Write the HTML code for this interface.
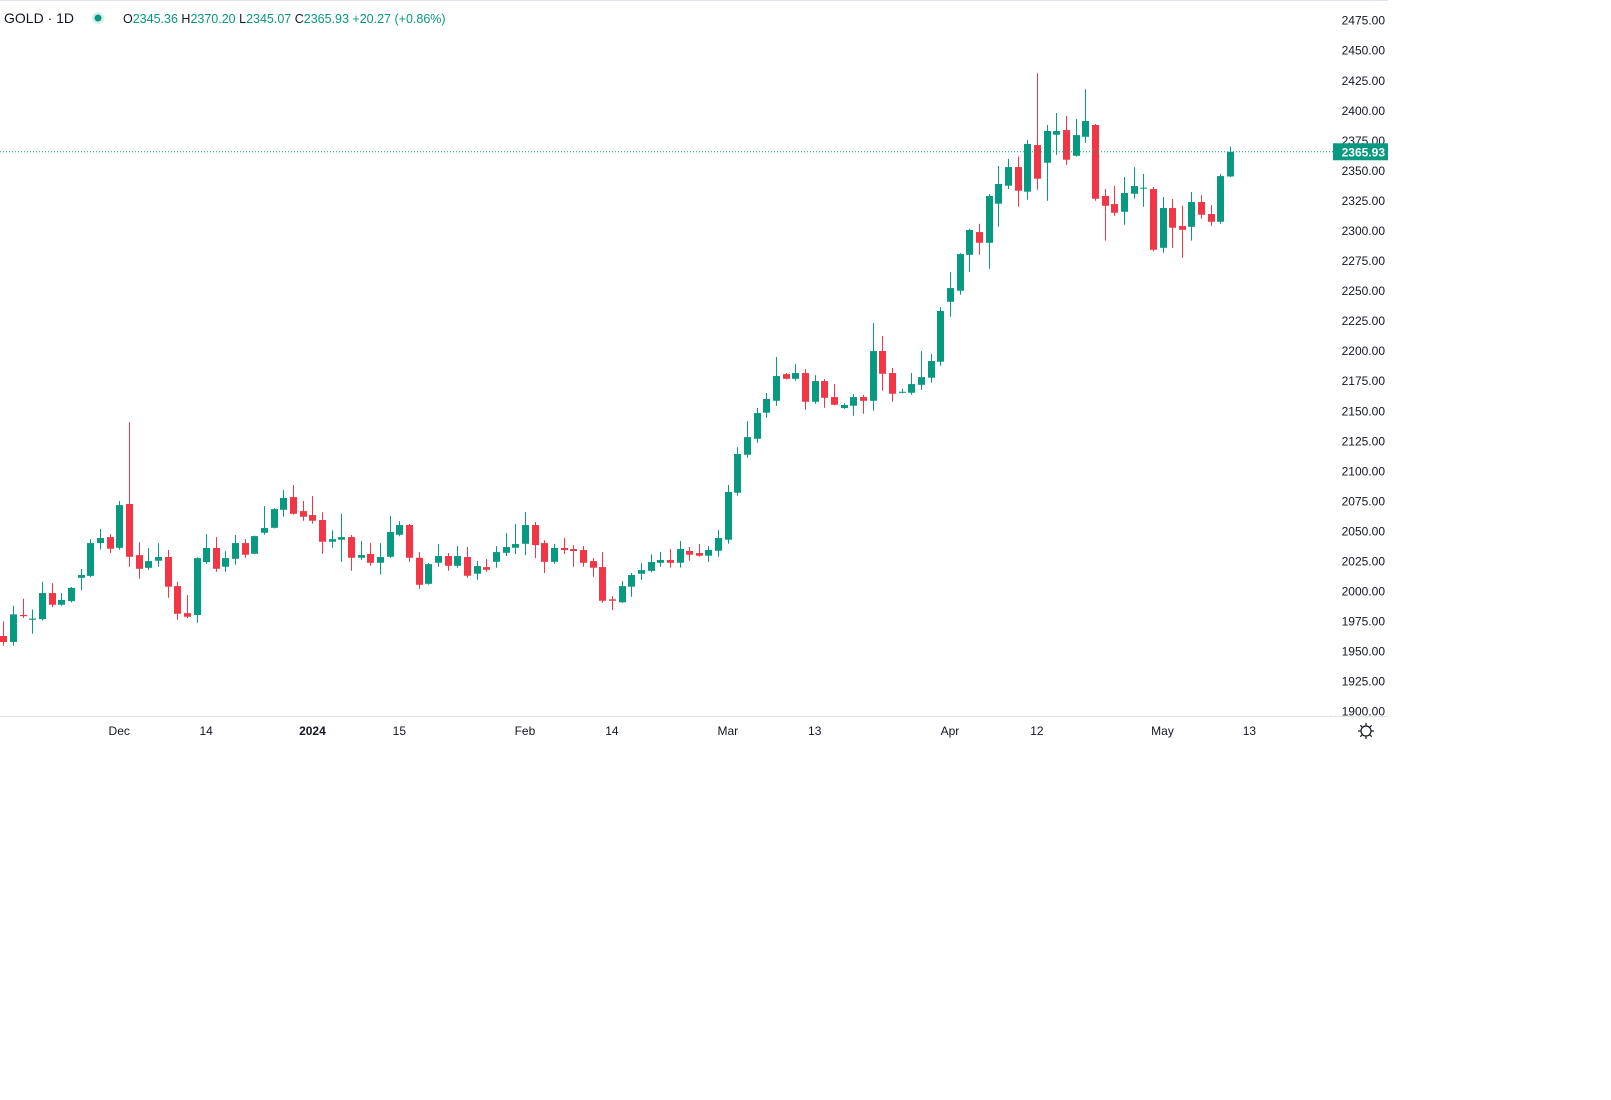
<!DOCTYPE html>
<html><head><meta charset="utf-8"><style>
html,body{margin:0;padding:0;background:#fff;width:1611px;height:1100px;overflow:hidden;font-family:"Liberation Sans",sans-serif;}
#chart{position:absolute;left:0;top:0;}
</style></head><body>
<svg id="chart" width="1611" height="1100" xmlns="http://www.w3.org/2000/svg">
<line x1="0" y1="0.5" x2="1388" y2="0.5" stroke="#e0e3eb"/>
<line x1="0" y1="716.5" x2="1333" y2="716.5" stroke="#e0e3eb"/>
<line x1="1334" y1="716.5" x2="1388" y2="716.5" stroke="#e0e3eb"/>
<g id="candles"></g>
<g id="yticks"></g>
<g id="xticks"></g>
<line id="lastline" x1="0" x2="1333" stroke="#089981" stroke-dasharray="1 2"/>
<g>
<rect id="lastbox" x="1333" width="55" height="17" fill="#089981"/>
<text id="lasttext" x="1385" text-anchor="end" font-size="12" font-weight="bold" fill="#fff" font-family="Liberation Sans, sans-serif"></text>
</g>
<g font-family="Liberation Sans, sans-serif" font-size="13">
<text x="4" y="23" font-size="14" fill="#131722">GOLD · 1D</text>
<circle cx="98" cy="18" r="6" fill="#d7f0ea"/>
<circle cx="98" cy="18" r="3.5" fill="#089981"/>
<text x="123" y="23" font-size="12.5" fill="#089981"><tspan fill="#131722">O</tspan>2345.36 <tspan fill="#131722">H</tspan>2370.20 <tspan fill="#131722">L</tspan>2345.07 <tspan fill="#131722">C</tspan>2365.93 +20.27 (+0.86%)</text>
</g>
<g transform="translate(1366,731)" stroke="#131722" fill="none" stroke-width="1.2">
<circle r="5"/>
<line x1="0" y1="-8" x2="0" y2="-5.5"/><line x1="0" y1="5.5" x2="0" y2="8"/>
<line x1="-8" y1="0" x2="-5.5" y2="0"/><line x1="5.5" y1="0" x2="8" y2="0"/>
<line x1="-5.7" y1="-5.7" x2="-3.9" y2="-3.9"/><line x1="3.9" y1="3.9" x2="5.7" y2="5.7"/>
<line x1="-5.7" y1="5.7" x2="-3.9" y2="3.9"/><line x1="3.9" y1="-3.9" x2="5.7" y2="-5.7"/>
</g>
</svg>
<script>
const opens=[1963,1958,1980.5,1976.5,1977,1998.7,1989,1992,2011.4,2013,2040.3,2045.3,2036.4,2072.8,2030.3,2019.7,2025.6,2028.7,2004.5,1982,1980.4,2024.5,2036.2,2020.6,2027.2,2040.3,2031.4,2048.9,2053,2068,2078.6,2066.9,2063.6,2059.5,2041.4,2043.1,2045.3,2028.1,2031.2,2023.9,2028.9,2047.2,2055.3,2028.1,2006.4,2023.9,2029.5,2021.4,2028.7,2014.8,2020.3,2024.7,2032.2,2036.4,2039.7,2055.3,2040.3,2024.7,2036.2,2035.3,2034.5,2025.3,2020.3,1993.5,1991,2004,2014.8,2017.2,2023.9,2026.2,2023.9,2033.7,2032,2029.8,2033.9,2043.1,2082.2,2113.8,2127.1,2148.8,2158.7,2180.9,2177,2181.8,2157.9,2175.1,2161.8,2152.7,2154.6,2161.8,2158.7,2200.1,2181.8,2165.4,2165.4,2172,2177.9,2191.2,2241.1,2250.3,2280.2,2299.1,2290.2,2322.7,2337.7,2353.2,2332.7,2371.5,2356.8,2380.1,2384,2362.6,2378.4,2388.2,2329.1,2322.4,2316,2331,2335.3,2334.9,2286,2319.1,2304.1,2303.5,2324.1,2314.1,2307.7,2345.36];
const highs=[1975,1988,1994,1985,2008,2007,1998.7,2003.7,2018.7,2043.6,2052,2047.8,2075.3,2141,2041,2036.2,2040.3,2034.5,2008,1997,2028.5,2047.8,2045.3,2033.6,2047,2043.6,2046.5,2071,2069.4,2084.4,2088.6,2075.3,2079.4,2066,2051,2064.5,2047,2042,2040.3,2040.3,2062.8,2058.6,2056.2,2032.8,2023.6,2039.5,2032,2037.8,2037,2025.3,2027,2037.8,2048.6,2056.1,2066.1,2057.8,2042.8,2039.5,2044.5,2038.6,2037.8,2027.8,2032.8,1996.2,2008.7,2015.4,2023.6,2031,2032.8,2035.3,2042,2037,2039.5,2037.8,2051.1,2088.6,2120.2,2141.8,2152.7,2165.2,2195.1,2181.8,2189.3,2185.1,2180.1,2176.8,2172.6,2156.8,2164.3,2163.5,2223.4,2212.6,2186,2168.7,2181.8,2200.1,2197.6,2236.7,2265.8,2281.6,2301.6,2306,2330.8,2354.1,2360,2362,2375.7,2431.4,2388.2,2398.2,2395.7,2393.2,2418.1,2389,2334.9,2337.4,2344.9,2353.2,2347.4,2336.6,2328.3,2326.6,2321,2332.4,2329.9,2321.6,2347.5,2370.2];
const lows=[1955,1955,1978,1965,1976,1987,1988,1991,2001,2012,2035,2032,2034.7,2020.6,2010.6,2018,2020.6,1994.8,1976.5,1978,1974,2023,2016.4,2016.4,2022.3,2028,2031,2047.2,2052.5,2062.2,2064,2058.9,2056.4,2031.4,2036.4,2024.7,2017.3,2026.4,2021.4,2014,2028,2046,2024.7,2002.3,2005.6,2020.6,2017.3,2019.8,2011.4,2009.8,2016.4,2019.8,2029.5,2031.2,2030.3,2027.8,2015.4,2023.1,2031.2,2020.6,2020.6,2012.3,1990.6,1984.6,1990.4,1995.6,2009.8,2016,2020.6,2020,2020,2025.6,2029,2024.7,2028.9,2039.8,2079.7,2111.3,2123.8,2144.6,2154.6,2176.5,2175.4,2151.2,2156.2,2152.9,2155,2152,2146.3,2147.9,2150.4,2167.1,2157.9,2165,2163.7,2167.9,2173.7,2187.9,2228.6,2247,2266.1,2280.2,2268.6,2303.5,2335,2320.2,2326,2334.3,2325.2,2363.5,2355.1,2362,2373.4,2325.2,2292,2312.7,2305.2,2326.8,2320.2,2283,2281.9,2286,2277.7,2292,2310.2,2304.4,2306,2345.07];
const closes=[1958,1981,1979.5,1977.5,1998.7,1989,1993,2003,2013.7,2040.3,2044.5,2035.6,2071.9,2028.9,2018.9,2025.3,2028.7,2004,1981.5,1979,2027.8,2036.2,2018.9,2027.8,2040.3,2030.6,2046.1,2052.8,2068.6,2077.8,2064.7,2062.2,2058.9,2041.4,2043.6,2045.3,2028.1,2030.3,2023.9,2028.7,2049.5,2055.3,2028.1,2005.6,2022.8,2029.5,2021.4,2029.5,2013.1,2021.2,2018.1,2032.8,2037,2039.5,2055.3,2038.6,2024.7,2036.2,2034.5,2033.7,2023.9,2019.8,1992.3,1992.3,2004.5,2013.7,2017.8,2024.5,2026.2,2023.9,2035.3,2030.6,2029.8,2034.5,2044.5,2082.8,2114.4,2128.5,2148.5,2160.2,2179.3,2177,2181.8,2157.9,2175.1,2161.2,2155.4,2155.2,2161.8,2158.7,2200.1,2181.2,2164.6,2166.2,2172.6,2178.4,2191.8,2233.4,2252.5,2280.8,2300.8,2290.2,2329.1,2339.1,2353.2,2333.5,2372.4,2343.5,2383.2,2383.2,2359.3,2379.8,2391.5,2326.8,2321,2315.2,2331.6,2337.4,2336,2284.4,2319.1,2302.7,2301,2324.1,2313.5,2307.7,2345.7,2365.93];
const priceTicks=[1900,1925,1950,1975,2000,2025,2050,2075,2100,2125,2150,2175,2200,2225,2250,2275,2300,2325,2350,2375,2400,2425,2450,2475];
const dateLabels=["Dec","14","2024","15","Feb","14","Mar","13","Apr","12","May","13"];
const dateIndex=[12,21,32,41,54,63,75,84,98,107,120,129];
const lastPrice=2365.93;

const NS="http://www.w3.org/2000/svg";
function yOf(p){return 20.7+(2475-p)*1.2017;}
function xOf(i){return 3.3+i*9.66;}
function mk(tag,attrs,parent){const e=document.createElementNS(NS,tag);for(const k in attrs)e.setAttribute(k,attrs[k]);parent.appendChild(e);return e;}

const cg=document.getElementById('candles');
for(let i=0;i<opens.length;i++){
  const up=closes[i]>=opens[i];
  const col=up?'#089981':'#f23645';
  const x=Math.round(xOf(i));
  const g=mk('g',{},cg);
  
  
  mk('line',{x1:x+0.5,x2:x+0.5,y1:yOf(highs[i]),y2:yOf(lows[i]),stroke:col,'stroke-width':1},g);
  const t=yOf(Math.max(opens[i],closes[i])),b=yOf(Math.min(opens[i],closes[i]));
  mk('rect',{x:x-3,y:t,width:7,height:Math.max(1,b-t),fill:col},g);
}
const yg=document.getElementById('yticks');
priceTicks.forEach(p=>{
  const t=mk('text',{x:1385,y:yOf(p)+4,'text-anchor':'end','font-size':12,fill:'#131722','font-family':'Liberation Sans, sans-serif'},yg);
  
  
  t.textContent=p.toFixed(2);
});
const xg=document.getElementById('xticks');
dateLabels.forEach((l,k)=>{
  const t=mk('text',{x:xOf(dateIndex[k]),y:735,'text-anchor':'middle','font-size':12,fill:'#131722','font-weight':l==='2024'?'bold':'normal','font-family':'Liberation Sans, sans-serif'},xg);
  
  
  t.textContent=l;
});
const ly=yOf(lastPrice);
const ll=document.getElementById('lastline');ll.setAttribute('y1',ly);ll.setAttribute('y2',ly);
document.getElementById('lastbox').setAttribute('y',ly-8.5);
const lt=document.getElementById('lasttext');lt.setAttribute('y',ly+4.5);lt.textContent=lastPrice.toFixed(2);
</script>
</body></html>
